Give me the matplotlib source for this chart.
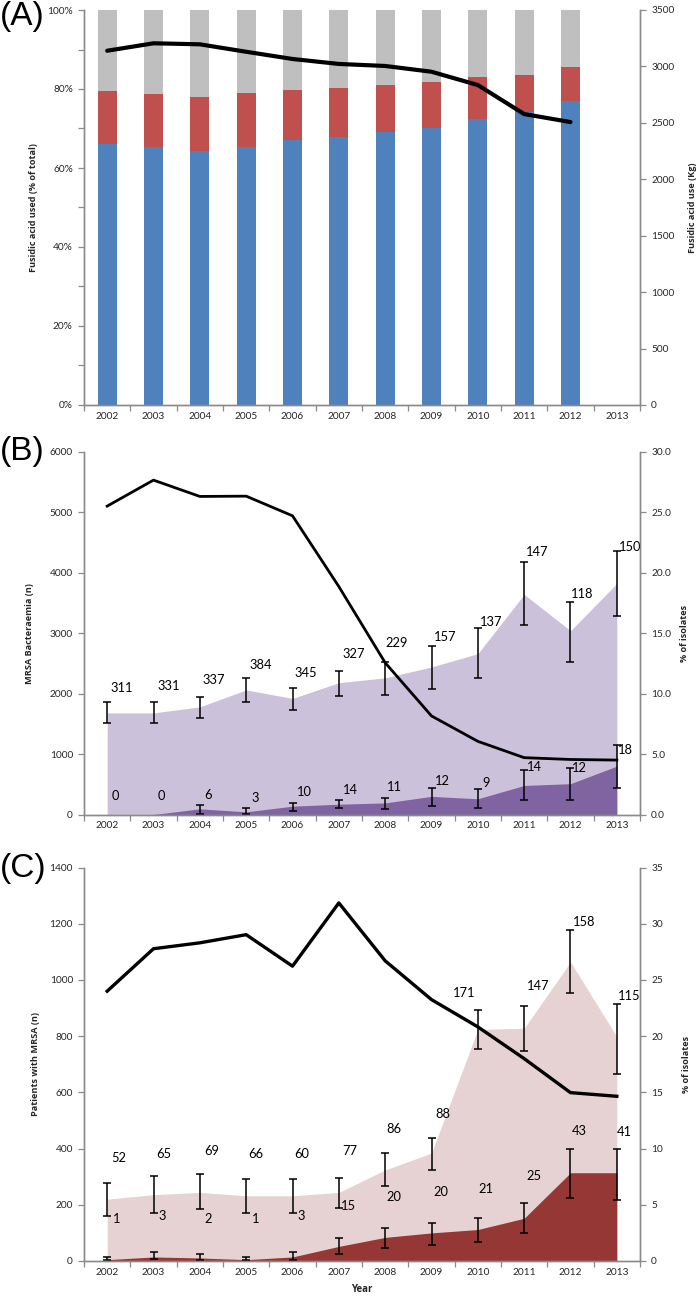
import matplotlib
matplotlib.use('Agg')
import matplotlib.pyplot as plt
import numpy as np
from matplotlib.ticker import FuncFormatter

plt.rcParams['font.family'] = ['Lato', 'DejaVu Sans']

years = [str(y) for y in range(2002, 2014)]

# ---------------- Panel A data ----------------
a_blue = [66.2, 65.3, 64.4, 65.3, 67.2, 67.8, 69.2, 70.1, 72.4, 74.3, 77.0]
a_red = [13.4, 13.4, 13.6, 13.7, 12.6, 12.4, 11.8, 11.6, 10.7, 9.2, 8.5]
a_kg = [3139, 3205, 3196, 3130, 3066, 3022, 3004, 2953, 2835, 2578, 2507]

# ---------------- Panel B data ----------------
b_total = [5100, 5530, 5260, 5265, 4940, 3770, 2510, 1630, 1210, 940, 910, 900]
b_pct_light = [8.4, 8.4, 8.9, 10.3, 9.6, 10.9, 11.3, 12.2, 13.3, 18.2, 15.2, 19.1]
b_light_lo = [7.55, 7.55, 8.0, 9.3, 8.6, 9.8, 9.9, 10.4, 11.3, 15.7, 12.6, 16.4]
b_light_hi = [9.3, 9.3, 9.7, 11.25, 10.5, 11.9, 12.6, 13.9, 15.4, 20.9, 17.6, 21.8]
b_light_n = [311, 331, 337, 384, 345, 327, 229, 157, 137, 147, 118, 150]
b_pct_dark = [0, 0, 0.47, 0.22, 0.69, 0.85, 0.96, 1.5, 1.3, 2.4, 2.55, 4.0]
b_dark_lo = [np.nan, np.nan, 0.05, 0.05, 0.33, 0.5, 0.47, 0.69, 0.55, 1.24, 1.24, 2.2]
b_dark_hi = [np.nan, np.nan, 0.77, 0.5, 0.96, 1.21, 1.35, 2.2, 2.12, 3.64, 3.86, 5.76]
b_dark_n = [0, 0, 6, 3, 10, 14, 11, 12, 9, 14, 12, 18]

# ---------------- Panel C data ----------------
c_total = [960, 1111, 1132, 1161, 1049, 1274, 1068, 930, 833, 720, 599, 586]
c_pct_light = [5.5, 5.9, 6.1, 5.8, 5.8, 6.1, 8.1, 9.6, 20.6, 20.7, 26.6, 19.95]
c_light_lo = [4.0, 4.3, 4.65, 4.25, 4.25, 4.75, 6.65, 8.1, 18.9, 18.7, 23.8, 16.65]
c_light_hi = [6.95, 7.55, 7.7, 7.25, 7.25, 7.4, 9.6, 10.9, 22.3, 22.7, 29.4, 22.9]
c_light_n = [52, 65, 69, 66, 60, 77, 86, 88, 171, 147, 158, 115]
c_pct_dark = [0.12, 0.36, 0.27, 0.12, 0.36, 1.3, 2.1, 2.5, 2.8, 3.8, 7.85, 7.85]
c_dark_lo = [0.12, 0.15, 0.12, 0.06, 0.12, 0.65, 1.2, 1.4, 1.65, 2.45, 5.6, 5.4]
c_dark_hi = [0.39, 0.8, 0.65, 0.36, 0.77, 2.05, 2.95, 3.4, 3.8, 5.2, 9.95, 10.0]
c_dark_n = [1, 3, 2, 1, 3, 15, 20, 20, 21, 25, 43, 41]

# ---------------- label offsets (pixels, layout only) ----------------
b_light_off = [(3, 10), (4, 12), (3, 13), (3, 9), (2, 11), (4, 13), (0, 15), (2, 5), (2, 2), (1.5, 6), (0.5, 4), (2.5, 0)]
b_dark_off = [(4, 14), (4, 14), (4, 6), (5, 6), (4, 7), (4.5, 6), (2, 7), (3, 3), (5, 2), (2.5, -1), (1, -4), (1.5, -9)]
c_light_off = [(4.5, 21), (3, 18), (4, 19), (2, 21), (2, 21), (3, 23), (1.5, 20), (3.5, 20), (-24.5, 13), (3, 16), (2, 4), (1, 4)]
c_dark_off = [(6, 34), (5, 32), (5, 31), (6, 34), (5, 32), (2, 28), (1.5, 27), (2, 27), (0.5, 25), (2, 23), (1, 14), (0, 13)]

# ---------------- styling ----------------
W, H = 696, 1305
AXC = '#8a8a8a'
TXT = '#262626'
C_BLUE, C_RED, C_GREY = '#4F81BD', '#C0504D', '#BFBFBF'
C_LPURP, C_DPURP = '#CCC1DA', '#8064A2'
C_LPINK, C_DRED = '#E6D2D2', '#953735'
TICK_FS = 7.3
LAB_FS = 6.6
LAB_FAMILY = ['Open Sans', 'DejaVu Sans']
DATA_FS = 9.3

fig = plt.figure(figsize=(W / 100, H / 100), dpi=100)


def make_axes(top, bottom, left=84, right=640):
    return fig.add_axes([left / W, 1 - bottom / H, (right - left) / W, (bottom - top) / H])


def style(ax, ax2):
    ax.set_xlim(-0.5, len(years) - 0.5)
    ax.set_xticks(np.arange(len(years)))
    ax.set_xticklabels(years)
    ax.set_xticks(np.arange(-0.5, len(years), 1), minor=True)
    ax.tick_params(axis='x', which='major', length=0, pad=5, labelsize=TICK_FS, labelcolor=TXT)
    ax.tick_params(axis='x', which='minor', length=4, color=AXC, width=0.9)
    for a in (ax, ax2):
        a.spines['top'].set_visible(False)
        for s in ('left', 'right', 'bottom'):
            a.spines[s].set_color(AXC)
            a.spines[s].set_linewidth(1.0)
    ax.tick_params(axis='y', which='both', length=4, color=AXC, width=0.9, labelsize=TICK_FS,
                   labelcolor=TXT, pad=4)
    ax2.tick_params(axis='y', which='both', length=4, color=AXC, width=0.9, labelsize=TICK_FS,
                    labelcolor=TXT, pad=4)


def ylab(ax, text, xpos):
    ax.set_ylabel(text, fontsize=LAB_FS, fontweight='bold', color=TXT, family=LAB_FAMILY)
    ax.yaxis.set_label_coords(xpos, 0.5)


x = np.arange(len(years))

# ================= Panel A =================
axA = make_axes(10, 405)
axA2 = axA.twinx()
xa = x[:len(a_blue)]
blue = np.array(a_blue)
red = np.array(a_red)
grey = 100 - blue - red
bw = 0.41
axA.bar(xa, blue, bw, color=C_BLUE, zorder=2)
axA.bar(xa, red, bw, bottom=blue, color=C_RED, zorder=2)
axA.bar(xa, grey, bw, bottom=blue + red, color=C_GREY, zorder=2)
axA.set_ylim(0, 100)
axA.set_yticks(np.arange(0, 101, 20))
axA.set_yticks(np.arange(0, 101, 10), minor=True)
axA.yaxis.set_major_formatter(FuncFormatter(lambda v, p: f'{v:.0f}%'))
axA2.plot(xa, a_kg, color='black', lw=3.0, solid_joinstyle='round', solid_capstyle='round')
axA2.set_ylim(0, 3500)
axA2.set_yticks(np.arange(0, 3501, 500))
style(axA, axA2)
ylab(axA, 'Fusidic acid used (% of total)', -0.083)
ylab(axA2, 'Fusidic acid use (Kg)', 1.086)


def area_panel(ax, ax2, total, pl, llo, lhi, ln, pdk, dlo, dhi, dn, cl, cd,
               loff, doff, lwline):
    ax2.fill_between(x, 0, pl, color=cl, lw=0, zorder=1)
    ax2.fill_between(x, 0, pdk, color=cd, lw=0, zorder=2)
    pl = np.array(pl); llo = np.array(llo); lhi = np.array(lhi)
    pdk = np.array(pdk, dtype=float); dlo = np.array(dlo, dtype=float); dhi = np.array(dhi, dtype=float)
    ax2.errorbar(x, pl, yerr=[pl - llo, lhi - pl], fmt='none', ecolor='black', elinewidth=1.1,
                 capsize=2.8, capthick=1.1, zorder=4)
    ok = ~np.isnan(dhi)
    ax2.errorbar(x[ok], pdk[ok], yerr=[pdk[ok] - dlo[ok], dhi[ok] - pdk[ok]], fmt='none',
                 ecolor='black', elinewidth=1.1, capsize=2.8, capthick=1.1, zorder=4)
    for i in range(len(x)):
        ax2.annotate(str(ln[i]), (x[i], lhi[i]), xytext=loff[i], textcoords='offset pixels',
                     ha='left', va='baseline', fontsize=DATA_FS, color='black', zorder=5)
        anchor = 0.0 if np.isnan(dhi[i]) else dhi[i]
        ax2.annotate(str(dn[i]), (x[i], anchor), xytext=doff[i], textcoords='offset pixels',
                     ha='left', va='baseline', fontsize=DATA_FS, color='black', zorder=5)
    ax.plot(x, total, color='black', lw=lwline, zorder=6)
    ax.set_zorder(ax2.get_zorder() + 1)
    ax.patch.set_visible(False)


# ================= Panel B =================
axB = make_axes(451.7, 814.5)
axB2 = axB.twinx()
area_panel(axB, axB2, b_total, b_pct_light, b_light_lo, b_light_hi, b_light_n,
           b_pct_dark, b_dark_lo, b_dark_hi, b_dark_n, C_LPURP, C_DPURP,
           b_light_off, b_dark_off, 2.0)
axB.set_ylim(0, 6000)
axB.set_yticks(np.arange(0, 6001, 1000))
axB2.set_ylim(0, 30)
axB2.set_yticks(np.arange(0, 30.1, 5))
axB2.yaxis.set_major_formatter(FuncFormatter(lambda v, p: f'{v:.1f}'))
style(axB, axB2)
ylab(axB, 'MRSA Bacteraemia (n)', -0.09)
ylab(axB2, '% of isolates', 1.072)

# ================= Panel C =================
axC = make_axes(867.5, 1261)
axC2 = axC.twinx()
area_panel(axC, axC2, c_total, c_pct_light, c_light_lo, c_light_hi, c_light_n,
           c_pct_dark, c_dark_lo, c_dark_hi, c_dark_n, C_LPINK, C_DRED,
           c_light_off, c_dark_off, 2.4)
axC.set_ylim(0, 1400)
axC.set_yticks(np.arange(0, 1401, 200))
axC2.set_ylim(0, 35)
axC2.set_yticks(np.arange(0, 36, 5))
style(axC, axC2)
ylab(axC, 'Patients with MRSA (n)', -0.079)
ylab(axC2, '% of isolates', 1.076)
axC.set_xlabel('Year', fontsize=LAB_FS + 0.4, fontweight='bold', color=TXT, family=LAB_FAMILY,
               labelpad=5)

# Panel letters
for lab, yc in (('(A)', 17), ('(B)', 451), ('(C)', 868)):
    fig.text(0.0, 1 - yc / H, lab, fontsize=24, family='Liberation Sans', ha='left', va='center')

fig.savefig('out.png', dpi=100)
